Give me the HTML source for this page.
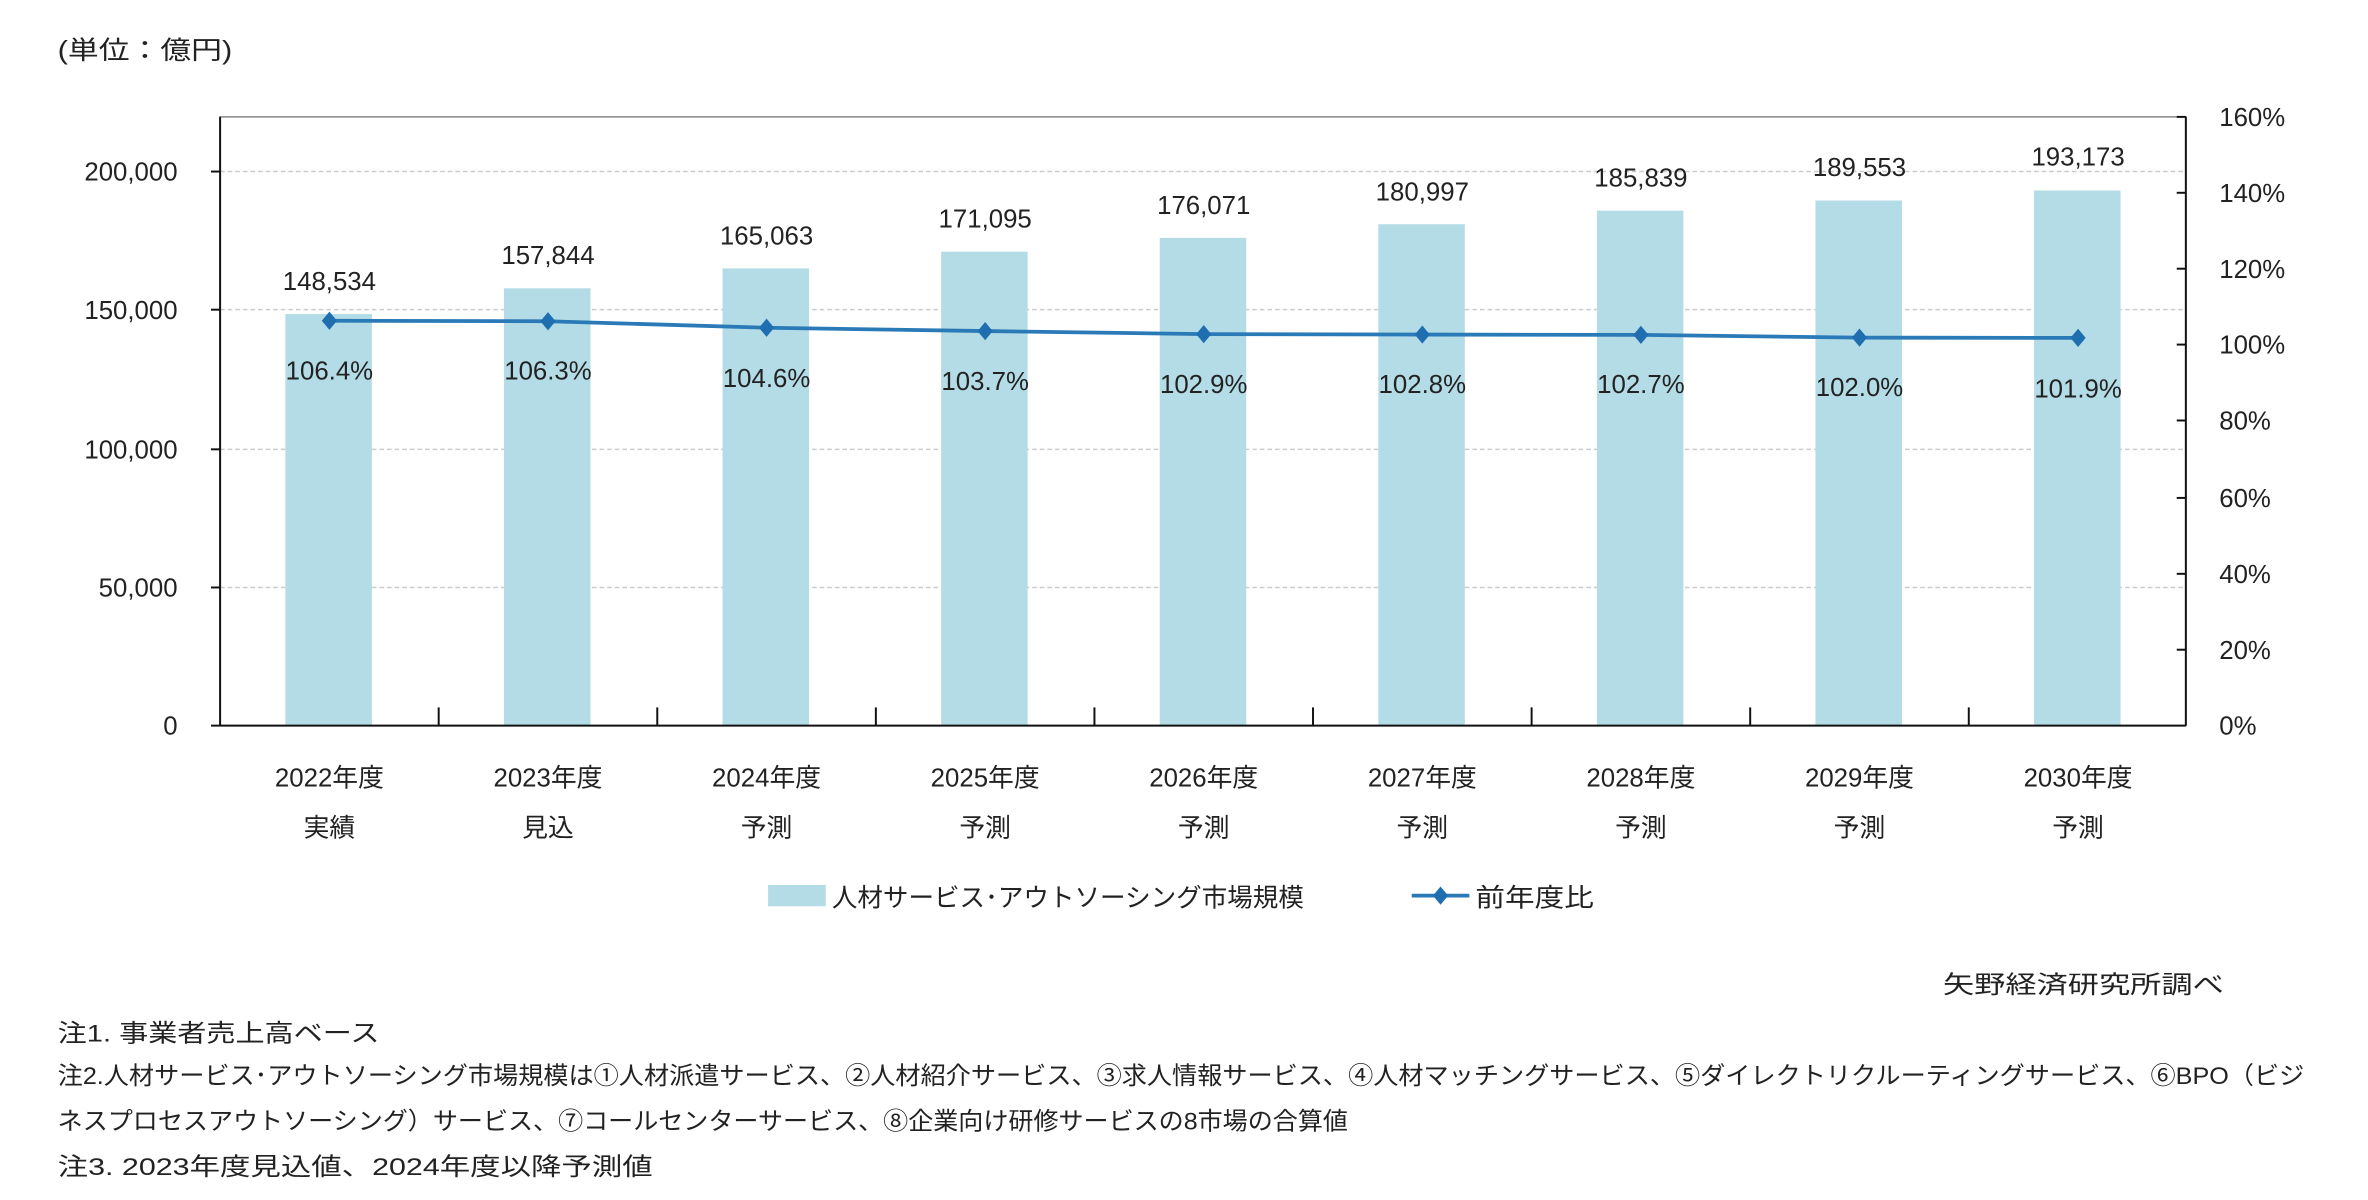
<!DOCTYPE html>
<html><head><meta charset="utf-8"><style>html,body{margin:0;padding:0;background:#fff;width:2368px;height:1200px;overflow:hidden}svg{display:block}text{font-family:"Liberation Sans","Noto Sans CJK JP",sans-serif;fill:#222}</style></head><body>
<svg width="2368" height="1200" viewBox="0 0 1560 790.5" preserveAspectRatio="none">
<text x="38" y="39" font-size="17" textLength="115" lengthAdjust="spacingAndGlyphs">(単位：億円)</text>
<rect x="145" y="77" width="1295" height="401" fill="none" stroke="#888" stroke-width="1"/>
<g stroke="#ccc" stroke-dasharray="3,2" stroke-width="1">
<line x1="145" y1="113" x2="1440" y2="113"/><line x1="145" y1="204" x2="1440" y2="204"/><line x1="145" y1="296" x2="1440" y2="296"/><line x1="145" y1="387" x2="1440" y2="387"/></g>
<g fill="#b4dce6">
<rect x="188" y="206.9" width="57" height="271.1"/><rect x="332" y="189.9" width="57" height="288.1"/><rect x="476" y="176.8" width="57" height="301.2"/><rect x="620" y="165.8" width="57" height="312.2"/><rect x="764" y="156.7" width="57" height="321.3"/><rect x="908" y="147.7" width="57" height="330.3"/><rect x="1052" y="138.8" width="57" height="339.2"/><rect x="1196" y="132.1" width="57" height="345.9"/><rect x="1340" y="125.5" width="57" height="352.5"/></g>
<g stroke="#111" stroke-width="1.3">
<line x1="145" y1="77" x2="145" y2="478"/><line x1="1440" y1="77" x2="1440" y2="478"/><line x1="145" y1="478" x2="1440" y2="478"/>
<line x1="139" y1="113" x2="145" y2="113"/><line x1="139" y1="204" x2="145" y2="204"/><line x1="139" y1="296" x2="145" y2="296"/><line x1="139" y1="387" x2="145" y2="387"/><line x1="139" y1="478" x2="145" y2="478"/>
<g><line x1="1434" y1="77" x2="1440" y2="77"/><line x1="1434" y1="127" x2="1440" y2="127"/><line x1="1434" y1="177" x2="1440" y2="177"/><line x1="1434" y1="227" x2="1440" y2="227"/><line x1="1434" y1="277" x2="1440" y2="277"/><line x1="1434" y1="328" x2="1440" y2="328"/><line x1="1434" y1="378" x2="1440" y2="378"/><line x1="1434" y1="428" x2="1440" y2="428"/></g>
<line x1="289" y1="466" x2="289" y2="478"/><line x1="433" y1="466" x2="433" y2="478"/><line x1="577" y1="466" x2="577" y2="478"/><line x1="721" y1="466" x2="721" y2="478"/><line x1="865" y1="466" x2="865" y2="478"/><line x1="1009" y1="466" x2="1009" y2="478"/><line x1="1153" y1="466" x2="1153" y2="478"/><line x1="1297" y1="466" x2="1297" y2="478"/></g>
<g font-size="17" text-anchor="end"><text x="117" y="119">200,000</text><text x="117" y="210">150,000</text><text x="117" y="302">100,000</text><text x="117" y="393">50,000</text><text x="117" y="484">0</text></g>
<g font-size="17"><text x="1462" y="83">160%</text><text x="1462" y="133">140%</text><text x="1462" y="183">120%</text><text x="1462" y="233">100%</text><text x="1462" y="283">80%</text><text x="1462" y="334">60%</text><text x="1462" y="384">40%</text><text x="1462" y="434">20%</text><text x="1462" y="484">0%</text></g>
<polyline fill="none" stroke="#2a7ab8" stroke-width="2.5" points="217,211.3 361,211.6 505,215.9 649,218.1 793,220.1 937,220.4 1081,220.6 1225,222.4 1369,222.6"/>
<g fill="#1f6fb0">
<path d="M217,205.3l5,6l-5,6l-5,-6z"/><path d="M361,205.6l5,6l-5,6l-5,-6z"/><path d="M505,209.9l5,6l-5,6l-5,-6z"/><path d="M649,212.1l5,6l-5,6l-5,-6z"/><path d="M793,214.1l5,6l-5,6l-5,-6z"/><path d="M937,214.4l5,6l-5,6l-5,-6z"/><path d="M1081,214.6l5,6l-5,6l-5,-6z"/><path d="M1225,216.4l5,6l-5,6l-5,-6z"/><path d="M1369,216.6l5,6l-5,6l-5,-6z"/></g>
<g font-size="17" text-anchor="middle">
<text x="217" y="191">148,534</text><text x="361" y="174">157,844</text><text x="505" y="161">165,063</text><text x="649" y="150">171,095</text><text x="793" y="141">176,071</text><text x="937" y="132">180,997</text><text x="1081" y="123">185,839</text><text x="1225" y="116">189,553</text><text x="1369" y="109">193,173</text>
<text x="217" y="250">106.4%</text><text x="361" y="250">106.3%</text><text x="505" y="255">104.6%</text><text x="649" y="257">103.7%</text><text x="793" y="259">102.9%</text><text x="937" y="259">102.8%</text><text x="1081" y="259">102.7%</text><text x="1225" y="261">102.0%</text><text x="1369" y="262">101.9%</text>
<text x="217" y="518">2022年度</text><text x="361" y="518">2023年度</text><text x="505" y="518">2024年度</text><text x="649" y="518">2025年度</text><text x="793" y="518">2026年度</text><text x="937" y="518">2027年度</text><text x="1081" y="518">2028年度</text><text x="1225" y="518">2029年度</text><text x="1369" y="518">2030年度</text>
<text x="217" y="551">実績</text><text x="361" y="551">見込</text><text x="505" y="551">予測</text><text x="649" y="551">予測</text><text x="793" y="551">予測</text><text x="937" y="551">予測</text><text x="1081" y="551">予測</text><text x="1225" y="551">予測</text><text x="1369" y="551">予測</text></g>
<rect x="506" y="583" width="38" height="14" fill="#b4dce6"/>
<text x="548" y="597" font-size="17" textLength="311" lengthAdjust="spacingAndGlyphs">人材サービス･アウトソーシング市場規模</text>
<line x1="930" y1="590" x2="968" y2="590" stroke="#2a7ab8" stroke-width="2.5"/><path d="M949,584l5,6l-5,6l-5,-6z" fill="#1f6fb0"/>
<text x="972" y="597" font-size="17" textLength="78" lengthAdjust="spacingAndGlyphs">前年度比</text>
<text x="1465" y="654" font-size="16" text-anchor="end" textLength="185" lengthAdjust="spacingAndGlyphs">矢野経済研究所調べ</text>
<g font-size="16">
<text x="38" y="686" textLength="212" lengthAdjust="spacingAndGlyphs">注1. 事業者売上高ベース</text>
<text x="38" y="714" textLength="1480" lengthAdjust="spacingAndGlyphs">注2.人材サービス･アウトソーシング市場規模は①人材派遣サービス、②人材紹介サービス、③求人情報サービス、④人材マッチングサービス、⑤ダイレクトリクルーティングサービス、⑥BPO（ビジ</text>
<text x="38" y="744" textLength="850" lengthAdjust="spacingAndGlyphs">ネスプロセスアウトソーシング）サービス、⑦コールセンターサービス、⑧企業向け研修サービスの8市場の合算値</text>
<text x="38" y="774" textLength="392" lengthAdjust="spacingAndGlyphs">注3. 2023年度見込値、2024年度以降予測値</text></g>
</svg></body></html>
